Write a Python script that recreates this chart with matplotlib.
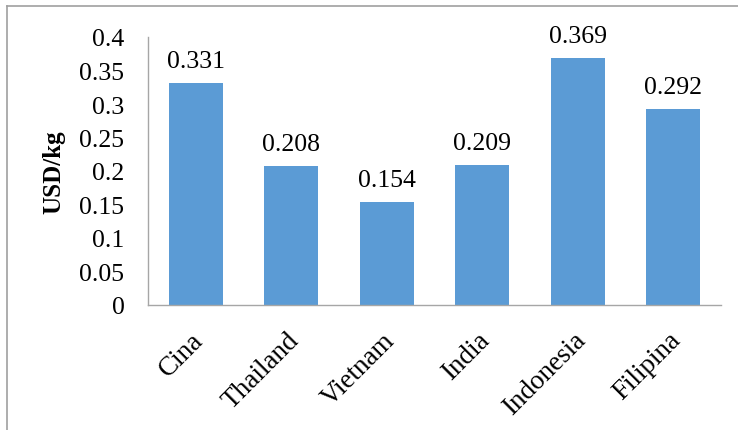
import matplotlib
matplotlib.use("Agg")
from matplotlib import pyplot as plt
from matplotlib.lines import Line2D
from matplotlib.transforms import ScaledTranslation
import numpy as np

negara = ["Cina", "Thailand", "Vietnam", "India", "Indonesia", "Filipina"]
harga = [0.331, 0.208, 0.154, 0.209, 0.369, 0.292]
yticks = [0, 0.05, 0.1, 0.15, 0.2, 0.25, 0.3, 0.35, 0.4]
ytick_labels = ["0", "0.05", "0.1", "0.15", "0.2", "0.25", "0.3", "0.35", "0.4"]

plt.rcParams['font.family'] = ['Liberation Serif', 'DejaVu Serif']

W, H = 738, 431
fig = plt.figure(figsize=(W / 100, H / 100), dpi=100)
ax = fig.add_axes([148 / W, 1 - 306 / H, (721 - 148) / W, (306 - 38) / H])

x = np.arange(len(negara))
ax.bar(x, harga, width=0.565, color='#5B9BD5')
ax.set_xlim(-0.5, len(negara) - 0.5)
ax.set_ylim(0, 0.4)

for xi, v in zip(x, harga):
    ax.annotate(f"{v:g}", (xi, v), xytext=(0, 8), textcoords='offset points',
                ha='center', va='bottom', fontsize=18.5)

ax.set_yticks(yticks)
ax.set_yticklabels(ytick_labels, fontsize=18.5)
ax.set_xticks(x)
ax.set_xticklabels(negara, fontsize=19.5, rotation=45, ha='right',
                   rotation_mode='anchor')
ax.tick_params(axis='y', length=0, pad=17)
ax.tick_params(axis='x', length=0, pad=16)
# nudge the slanted labels a little to the left
shift = ScaledTranslation(-5 / 100, 0, fig.dpi_scale_trans)
for lbl in ax.get_xticklabels():
    lbl.set_transform(lbl.get_transform() + shift)

ax.set_ylabel("USD/kg", fontsize=18, fontweight='bold')
ax.yaxis.set_label_coords(-(148 - 65) / (721 - 148), 0.5)

for s in ['top', 'right']:
    ax.spines[s].set_visible(False)
for s in ['left', 'bottom']:
    ax.spines[s].set_color('#A6A6A6')
    ax.spines[s].set_linewidth(1.0)

# frame around the chart (only top and left show)
fig.add_artist(Line2D([7 / W, 1], [1 - 7 / H, 1 - 7 / H], color='#A0A0A0', lw=1.2))
fig.add_artist(Line2D([7 / W, 7 / W], [0, 1 - 7 / H], color='#A0A0A0', lw=1.2))

fig.savefig("out.png", dpi=100)
